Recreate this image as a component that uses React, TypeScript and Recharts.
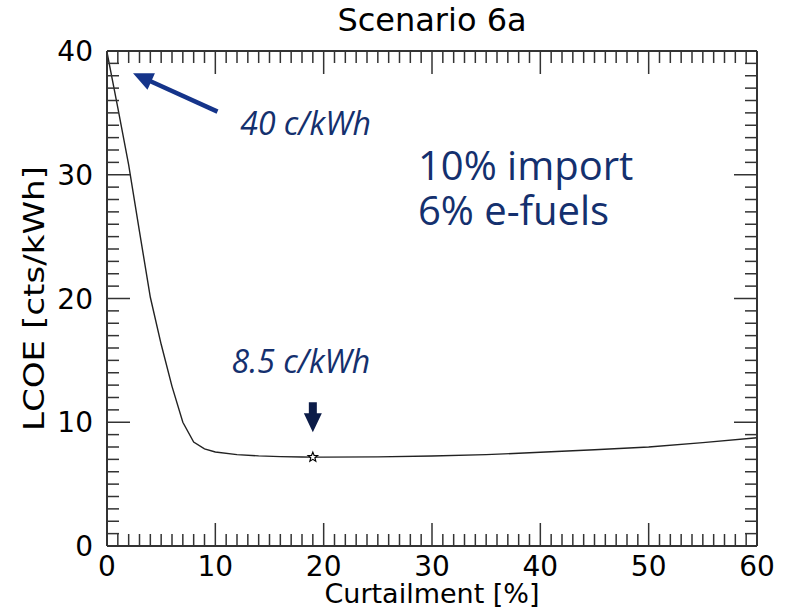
import {
  LineChart,
  Line,
  XAxis,
  YAxis,
  ReferenceDot,
  ReferenceLine,
  Label,
} from 'recharts'

// curtailment [%] and LCOE [cts/kWh]
const curtailment = [0, 1, 2, 3, 4, 5, 6, 7, 8, 9, 10, 12, 14, 16, 18, 19, 20, 25, 30, 35, 40, 45, 50, 55, 60]
const lcoe = [39.9, 35.4, 30.8, 25.4, 20.1, 16.3, 12.9, 10.0, 8.4, 7.85, 7.6, 7.38, 7.28, 7.22, 7.19, 7.18, 7.18, 7.2, 7.27, 7.38, 7.58, 7.78, 8.0, 8.35, 8.75]

const xTicks = Array.from({ length: 61 }, (_, i) => i)
const yTicks = Array.from({ length: 41 }, (_, i) => i)
const optimumX = 19

const data = curtailment.map((x, i) => ({ x, y: lcoe[i] }))

const TICK_FONT = '"DejaVu Sans", sans-serif'
const NOTE_FONT = '"Open Sans", "Noto Sans", sans-serif'
const FRAME = '#333'
const NAVY = '#14306e'

const BottomTick = (props: any) => {
  const { x, y, payload } = props
  const major = payload.value % 10 === 0
  return (
    <g>
      <line x1={x} x2={x} y1={y} y2={y - (major ? 23 : 12)} stroke={FRAME} strokeWidth={1.5} />
      {major && (
        <text x={x} y={y + 30} textAnchor="middle" fontFamily={TICK_FONT} fontSize={28} fill="#000">
          {payload.value}
        </text>
      )}
    </g>
  )
}

const TopTick = (props: any) => {
  const { x, y, payload } = props
  const major = payload.value % 10 === 0
  return <line x1={x} x2={x} y1={y} y2={y + (major ? 23 : 12)} stroke={FRAME} strokeWidth={1.5} />
}

const LeftTick = (props: any) => {
  const { x, y, payload } = props
  const major = payload.value % 10 === 0
  return (
    <g>
      <line x1={x} x2={x + (major ? 23 : 12)} y1={y} y2={y} stroke={FRAME} strokeWidth={1.5} />
      {major && (
        <text x={x - 14} y={y + 10} textAnchor="end" fontFamily={TICK_FONT} fontSize={28} fill="#000">
          {payload.value}
        </text>
      )}
    </g>
  )
}

const RightTick = (props: any) => {
  const { x, y, payload } = props
  const major = payload.value % 10 === 0
  return <line x1={x} x2={x - (major ? 23 : 12)} y1={y} y2={y} stroke={FRAME} strokeWidth={1.5} />
}

const Star = ({ cx, cy }: { cx: number; cy: number }) => {
  const pts: string[] = []
  for (let i = 0; i < 10; i++) {
    const r = i % 2 === 0 ? 5 : 2.2
    const a = -Math.PI / 2 + (i * Math.PI) / 5
    pts.push(`${cx + r * Math.cos(a)},${cy + r * Math.sin(a)}`)
  }
  return <polygon points={pts.join(' ')} fill="#fff" stroke="#000" strokeWidth={1.2} />
}

const BlueArrow = (props: any) => {
  const { x1, y1, x2, y2 } = props
  const dx = x2 - x1
  const dy = y2 - y1
  const len = Math.sqrt(dx * dx + dy * dy)
  const ux = dx / len
  const uy = dy / len
  const hl = 20
  const hw = 9
  const bx = x2 - ux * hl
  const by = y2 - uy * hl
  return (
    <g>
      <line x1={x1} y1={y1} x2={bx + ux * 2} y2={by + uy * 2} stroke="#15348a" strokeWidth={4.5} />
      <polygon
        points={`${x2},${y2} ${bx - uy * hw},${by + ux * hw} ${bx + uy * hw},${by - ux * hw}`}
        fill="#15348a"
      />
    </g>
  )
}

const DownArrow = ({ cx, cy }: { cx: number; cy: number }) => (
  <polygon
    points={`${cx - 4},${cy - 30} ${cx + 4},${cy - 30} ${cx + 4},${cy - 19} ${cx + 9},${cy - 19} ${cx},${cy} ${cx - 9},${cy - 19} ${cx - 4},${cy - 19}`}
    fill="#0c1c48"
  />
)

const NoteText = (text: string, size: number, italic: boolean) => (props: any) => (
  <text
    x={props.cx}
    y={props.cy}
    fontFamily={NOTE_FONT}
    fontSize={size}
    fontStyle={italic ? 'italic' : 'normal'}
    fill={NAVY}
  >
    {text}
  </text>
)

const App = () => (
  <div style={{ position: 'absolute', left: 0, top: 0, background: '#fff' }}>
    <LineChart width={792} height={609} data={data} margin={{ top: 50, right: 34, bottom: 0, left: 0 }}>
      <XAxis
        xAxisId="b"
        dataKey="x"
        type="number"
        domain={[0, 60]}
        ticks={xTicks}
        interval={0}
        height={63}
        tickSize={0}
        tickMargin={0}
        tickLine={false}
        tick={<BottomTick />}
        axisLine={{ stroke: FRAME, strokeWidth: 2 }}
        allowDataOverflow
      >
        <Label
          content={(p: any) => (
            <text
              x={p.viewBox.x + p.viewBox.width / 2}
              y={p.viewBox.y + 57}
              textAnchor="middle"
              fontFamily={TICK_FONT}
              fontSize={27}
              fill="#000"
            >
              Curtailment [%]
            </text>
          )}
        />
      </XAxis>
      <XAxis
        xAxisId="t"
        dataKey="x"
        orientation="top"
        type="number"
        domain={[0, 60]}
        ticks={xTicks}
        interval={0}
        height={1}
        tickSize={0}
        tickMargin={0}
        tickLine={false}
        tick={<TopTick />}
        axisLine={{ stroke: FRAME, strokeWidth: 2 }}
        allowDataOverflow
      >
        <Label
          content={(p: any) => (
            <text
              x={p.viewBox.x + p.viewBox.width / 2}
              y={p.viewBox.y - 19}
              textAnchor="middle"
              fontFamily={TICK_FONT}
              fontSize={32}
              fill="#000"
            >
              Scenario 6a
            </text>
          )}
        />
      </XAxis>
      <YAxis
        yAxisId="l"
        type="number"
        domain={[0, 40]}
        ticks={yTicks}
        interval={0}
        width={107}
        tickSize={0}
        tickMargin={0}
        tickLine={false}
        tick={<LeftTick />}
        axisLine={{ stroke: FRAME, strokeWidth: 2 }}
        allowDataOverflow
      >
        <Label
          content={(p: any) => {
            const cy = p.viewBox.y + p.viewBox.height / 2
            return (
              <text
                x={44}
                y={cy}
                transform={`rotate(-90 44 ${cy})`}
                textAnchor="middle"
                fontFamily={TICK_FONT}
                fontSize={28}
                textLength={265}
                lengthAdjust="spacingAndGlyphs"
                fill="#000"
              >
                LCOE [cts/kWh]
              </text>
            )
          }}
        />
      </YAxis>
      <YAxis
        yAxisId="r"
        orientation="right"
        type="number"
        domain={[0, 40]}
        ticks={yTicks}
        interval={0}
        width={1}
        tickSize={0}
        tickMargin={0}
        tickLine={false}
        tick={<RightTick />}
        axisLine={{ stroke: FRAME, strokeWidth: 2 }}
        allowDataOverflow
      />
      {/* invisible copy so the top/right frame axes are bound to a series */}
      <Line
        xAxisId="t"
        yAxisId="r"
        type="linear"
        dataKey="y"
        stroke="none"
        dot={false}
        activeDot={false}
        isAnimationActive={false}
      />
      <Line
        xAxisId="b"
        yAxisId="l"
        type="linear"
        dataKey="y"
        stroke="#222"
        strokeWidth={1.4}
        isAnimationActive={false}
        dot={(p: any) =>
          p.payload.x === optimumX ? <Star key={p.index} cx={p.cx} cy={p.cy} /> : <g key={p.index} />
        }
        activeDot={false}
      />
      <ReferenceLine
        xAxisId="b"
        yAxisId="l"
        segment={[
          { x: 10.2, y: 35.1 },
          { x: 2.4, y: 38.2 },
        ]}
        shape={<BlueArrow />}
      />
      <ReferenceDot xAxisId="b" yAxisId="l" x={optimumX} y={9.2} r={0} shape={<DownArrow cx={0} cy={0} />} />
      <ReferenceDot xAxisId="b" yAxisId="l" x={12.3} y={33.2} r={0} shape={NoteText('40 c/kWh', 32, true)} />
      <ReferenceDot xAxisId="b" yAxisId="l" x={11.5} y={14.0} r={0} shape={NoteText('8.5 c/kWh', 32, true)} />
      <ReferenceDot xAxisId="b" yAxisId="l" x={28.7} y={29.6} r={0} shape={NoteText('10% import', 40, false)} />
      <ReferenceDot xAxisId="b" yAxisId="l" x={28.7} y={25.9} r={0} shape={NoteText('6% e-fuels', 40, false)} />
    </LineChart>
  </div>
)

export default App
